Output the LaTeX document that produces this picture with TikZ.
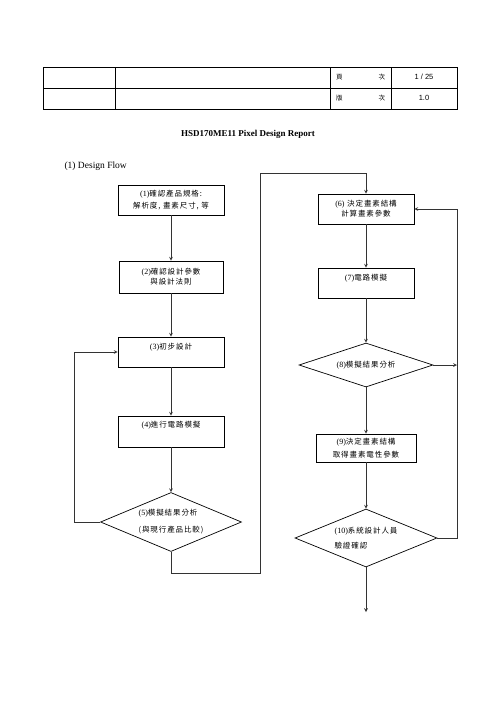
\documentclass[tikz,border=0pt]{standalone}
\usepackage{fontspec}
\setmainfont{Liberation Serif}
\newfontfamily\cjk{Noto Sans CJK TC}[LetterSpace=12]
\newfontfamily\hdsans{Liberation Sans}
\usetikzlibrary{shapes.geometric}
\newcommand{\stepno}[1]{{\rmfamily\fontsize{8}{10}\selectfont(#1)}}

\tikzset{
  box/.style={draw,line width=0.7pt,rectangle,inner sep=0pt,align=center,font=\cjk\fontsize{7.5}{10}\selectfont},
  decide/.style={draw,line width=0.7pt,diamond,inner sep=0pt,align=left,font=\cjk\fontsize{7.5}{10}\selectfont},
  flow/.style={->,line width=0.7pt,black!80},
  grid/.style={line width=0.7pt},
}

\begin{document}
\begin{tikzpicture}[x=1pt,y=-1pt,>=stealth]
		\useasboundingbox (0,0) rectangle (496,702);
		% header table
		\draw[grid] (43,67) rectangle (457,109);
		\draw[grid] (43,88) -- (457,88);
		\foreach \cx in {115,330,391} \draw[grid] (\cx,67) -- (\cx,109);
		\node[font=\cjk\fontsize{6.5}{8}\selectfont] (pageLbl) at (360.5,77.5) {\makebox[49pt]{頁\hfill 次}};
		\node[font=\cjk\fontsize{6.5}{8}\selectfont] (verLbl) at (360.5,98.5) {\makebox[49pt]{版\hfill 次}};
		\node[font=\hdsans\fontsize{7.5}{9}\selectfont] (pageNo) at (424,77) {1 / 25};
		\node[font=\hdsans\fontsize{7.5}{9}\selectfont] (verNo) at (424,98) {1.0};
		% title
		\node[font=\bfseries\fontsize{9}{11}\selectfont] (title) at (248,134) {HSD170ME11 Pixel Design Report};
		\node[anchor=west,font=\fontsize{9.5}{11}\selectfont] (sect) at (61,166) {(1) Design Flow};
		% left column
		\node[box,minimum width=106pt,minimum height=30pt] (b1) at (171,200) {\stepno{1}確認產品規格:\\[2pt]解析度, 畫素尺寸, 等};
		\node[box,minimum width=104pt,minimum height=32pt] (b2) at (171,277) {\stepno{2}確認設計參數\\與設計法則};
		\node[box,minimum width=106pt,text height=12pt,text depth=18pt] (b3) at (171,352) {\stepno{3}初步設計};
		\node[box,minimum width=106pt,text height=11pt,text depth=20pt] (b4) at (171,431.5) {\stepno{4}進行電路模擬};
		\node[decide,shape aspect=2.4,minimum width=141pt,minimum height=59pt] (d5) at (171,522) {\stepno{5}模擬結果分析\\[7pt](與現行產品比較)};
		% right column
		\node[box,minimum width=96pt,minimum height=30pt] (b6) at (366,209) {\stepno{6} 決定畫素結構\\計算畫素參數};
		\node[box,minimum width=96pt,text height=12pt,text depth=18pt] (b7) at (366,283) {\stepno{7}電路模擬};
		\node[decide,shape aspect=3,minimum width=134pt,minimum height=44pt] (d8) at (366,365) {\stepno{8}模擬結果分析};
		\node[box,minimum width=100pt,minimum height=28pt] (b9) at (366,448) {\stepno{9}決定畫素結構\\[3pt]取得畫素電性參數};
		\node[decide,shape aspect=2.45,minimum width=142pt,minimum height=58pt] (d10) at (366,538) {\stepno{10}系統設計人員\\[5pt]驗證確認};
		% bends
		\coordinate (loopL) at (74,522);
		\coordinate (crossB) at (260,573);
		\coordinate (crossT) at (260,173);
		\coordinate (loopR) at (457,538);
		\coordinate (join8) at (457,365);
		\coordinate (flowEnd) at (366,612);
		% connectors
		\draw[flow] (b1) -- (b2);
		\draw[flow] (b2) -- (b3);
		\draw[flow] (b3) -- (b4);
		\draw[flow] (b4) -- (d5);
		\draw[flow] (d5.west) -- (loopL) |- (b3.west);
		\draw[flow] (d5.south) |- (crossB) -- (crossT) -| (b6.north);
		\draw[flow] (b6) -- (b7);
		\draw[flow] (b7) -- (d8);
		\draw[flow] (d8) -- (b9);
		\draw[flow] (b9) -- (d10);
		\draw[flow] (d10) -- (flowEnd);
		\draw[flow] (d10.east) -- (loopR) |- (b6.east);
		\draw[flow] (d8.east) -- (join8);
		\end{tikzpicture}
\end{document}
